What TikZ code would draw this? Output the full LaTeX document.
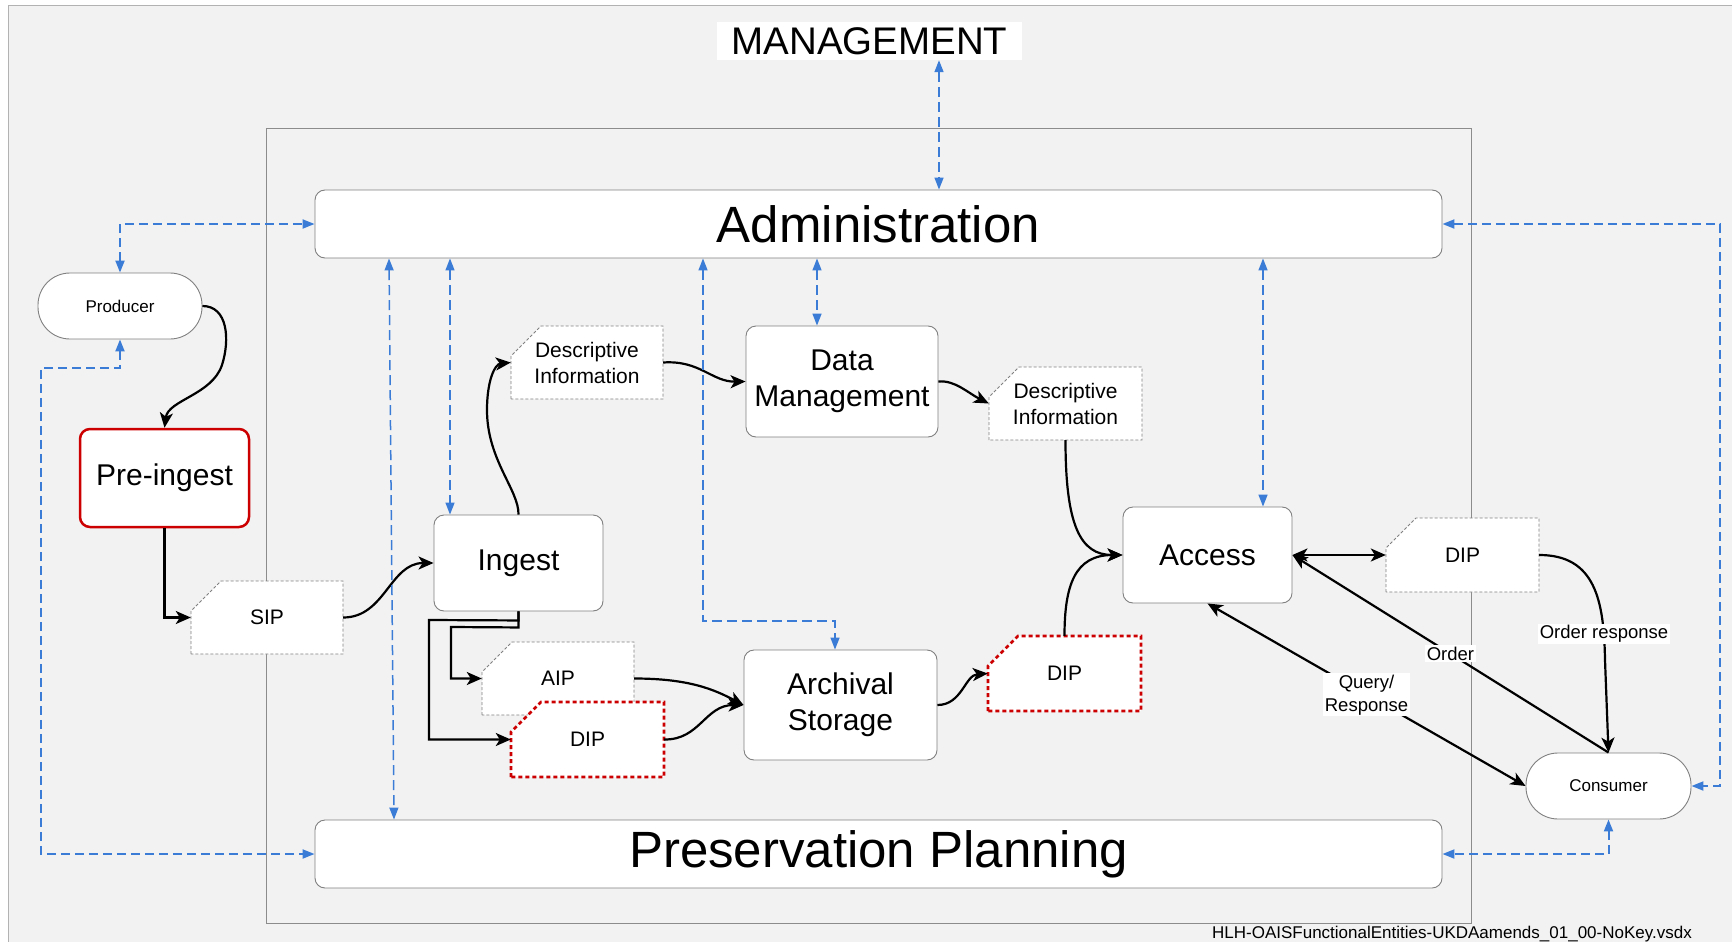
\documentclass[tikz,border=0pt]{standalone}
\usepackage{fontspec}
\setmainfont{Liberation Sans}
\usetikzlibrary{arrows.meta,calc}
\definecolor{bgg}{RGB}{242,242,242}
\definecolor{frameg}{RGB}{140,140,140}
\definecolor{boxg}{RGB}{128,128,128}
\definecolor{bl}{RGB}{58,124,214}
\definecolor{rd}{RGB}{204,0,0}
\newcommand\setfs[2]{\fontsize{#1pt}{#2pt}\selectfont}
\newcommand\docnode[7]{%
  \draw[#6] (#2,#5) -- (#2,#3+30) -- (#2+30,#3) -- (#4,#3) -- (#4,#5) -- cycle;
  \node[doctext, minimum width={(#4-#2)*1pt}, minimum height={(#5-#3)*1pt}] (#1) at ({(#2+#4)/2},{(#3+#5)/2}) {#7};
}
\begin{document}
\begin{tikzpicture}[x=1pt,y=-1pt,
  box/.style={draw=boxg, line width=0.9pt, fill=white, rounded corners=10pt, inner sep=0pt, align=center, font=\setfs{30}{36}},
  pill/.style={box, rounded corners=32pt, font=\setfs{17}{20}},
  doctext/.style={inner sep=0pt, align=center, font=\setfs{21}{26}},
  docplain/.style={draw=boxg, fill=white, line width=0.8pt, dash pattern=on 3pt off 2pt},
  docred/.style={draw=rd, fill=white, line width=2.6pt, dash pattern=on 4pt off 3pt},
  conn/.style={line width=2.2pt, -{Stealth[length=15pt,width=13pt,inset=4pt]}},
  conntwo/.style={line width=2.2pt, {Stealth[length=15pt,width=13pt,inset=4pt]}-{Stealth[length=15pt,width=13pt,inset=4pt]}},
  bdash/.style={draw=bl, line width=1.5pt, dash pattern=on 10pt off 5pt, {Triangle[length=12pt,width=9pt]}-{Triangle[length=12pt,width=9pt]}},
  bdasho/.style={bdash, line width=2pt, dash pattern=on 9pt off 5pt},
  lab/.style={fill=white, inner sep=1.5pt, align=center, font=\setfs{18.5}{23}}
]
\useasboundingbox (0,0) rectangle (1732,942);
\fill[white] (0,0) rectangle (1732,942);
\fill[bgg] (8,6) rectangle (1732,942);
\draw[gray!60, line width=1pt] (8,942) -- (8,6) -- (1732,6);
% inner frame
\draw[frameg, line width=1pt] (266,128) rectangle (1471,923);
% management
\node[fill=white, minimum width=305pt, minimum height=38pt, inner sep=0pt, font=\setfs{38.5}{40}] (mgmt) at (869.5,41) {MANAGEMENT};
% documents
\docnode{sip}{191}{581}{343}{654}{docplain}{SIP}
\docnode{di1}{511}{326}{663}{399}{docplain}{Descriptive\\Information}
\docnode{di2}{989}{367}{1142}{440}{docplain}{Descriptive\\Information}
\docnode{dipR}{1386}{518}{1539}{592}{docplain}{DIP}
\docnode{aip}{482}{642}{634}{715}{docplain}{AIP}
\docnode{dipL}{511}{702}{664}{777}{docred}{DIP}
\docnode{dipM}{988}{636}{1141}{711}{docred}{DIP}
% boxes
\node[box, minimum width=1127pt, minimum height=68pt, font=\setfs{51}{55}] (adm) at (878.5,224) {Administration};
\node[box, minimum width=1127pt, minimum height=68pt, font=\setfs{51}{55}] (pp) at (878.5,854) {Preservation Planning};
\node[pill, minimum width=164pt, minimum height=66pt] (prod) at (120,306) {Producer};
\node[pill, minimum width=165pt, minimum height=66pt] (cons) at (1608.5,786) {Consumer};
\node[box, draw=rd, line width=2.5pt, minimum width=169pt, minimum height=98pt] (pre) at (164.5,478) {Pre-ingest};
\node[box, minimum width=169pt, minimum height=96pt] (ingest) at (518.5,563) {Ingest};
\node[box, minimum width=192pt, minimum height=111pt] (dm) at (842,381.5) {Data\\Management};
\node[box, minimum width=169pt, minimum height=96pt] (access) at (1207.5,555) {Access};
\node[box, minimum width=193pt, minimum height=110pt] (as) at (840.5,705) {Archival\\Storage};
% black connectors
\draw[conn] (prod.east) .. controls (228,306) and (230,340) .. (222,365) .. controls (212,395) and (168,400) .. (pre.north);
\draw[conn] (pre.south) |- (sip.west);
\draw[conn] (sip.east) .. controls (385,617.5) and (390,563) .. (ingest.west);
\draw[conn] (ingest.south) -- ++(0,9) -- (429,620) |- (dipL.west);
\draw[conn] (ingest.south) -- ++(0,16) -- (451,627) |- (aip.west);
\draw[conn] (ingest.north) .. controls (519,490) and (487,460) .. (487,410) .. controls (487,380) and (495,364) .. (di1.west);
\draw[conn] (di1.east) .. controls (700,360) and (712,382) .. (dm.west);
\draw[conn] (dm.east) .. controls (955,380) and (968,393) .. (di2.west);
\draw[conn] (di2.south) .. controls (1065.5,525) and (1080,555) .. (access.west);
\draw[conn] (dipM.north) .. controls (1064.5,585) and (1075,555) .. (access.west);
\draw[conn] (as.east) .. controls (962,705) and (965,675) .. (dipM.west);
\draw[conn] (aip.east) .. controls (690,678.5) and (715,690) .. (as.west);
\draw[conn] (dipL.east) .. controls (700,740) and (705,705) .. (as.west);
\draw[conntwo] (access.east) -- (dipR.west);
\draw[conn] (dipR.east) .. controls (1595,555) and (1604,600) .. (1605,660) -- (cons.north);
\node[lab] (ordresp) at (1604,634) {Order response};
\draw[conn] (cons.north) -- node[lab]{Order} (access.east);
\draw[conntwo] (access.south) -- node[lab]{Query/\\Response} (cons.west);
% blue dashed connectors
\draw[bdash] (939,0 |- mgmt.south) -- (939,0 |- adm.north);
\draw[bdasho] (prod.north) |- (adm.west);
\draw[bdasho] (adm.east) -- (1720,224) |- (cons.east);
\draw[bdasho] (prod.south) -- (120,368) -- (41,368) |- (pp.west);
\draw[bdasho] (cons.south) |- (pp.east);
\draw[bdash] (389,0 |- adm.south) -- (394,0 |- pp.north);
\draw[bdash] (450,0 |- adm.south) -- (450,0 |- ingest.north);
\draw[bdash] (703,0 |- adm.south) -- (703,621) -| (835,0 |- as.north);
\draw[bdash] (817,0 |- adm.south) -- (817,0 |- dm.north);
\draw[bdash] (1263,0 |- adm.south) -- (1263,0 |- access.north);
% footer
\node[anchor=east, inner sep=0pt, font=\setfs{17}{20}] (foot) at (1692,934) {HLH-OAISFunctionalEntities-UKDAamends\_01\_00-NoKey.vsdx};
\end{tikzpicture}
\end{document}
